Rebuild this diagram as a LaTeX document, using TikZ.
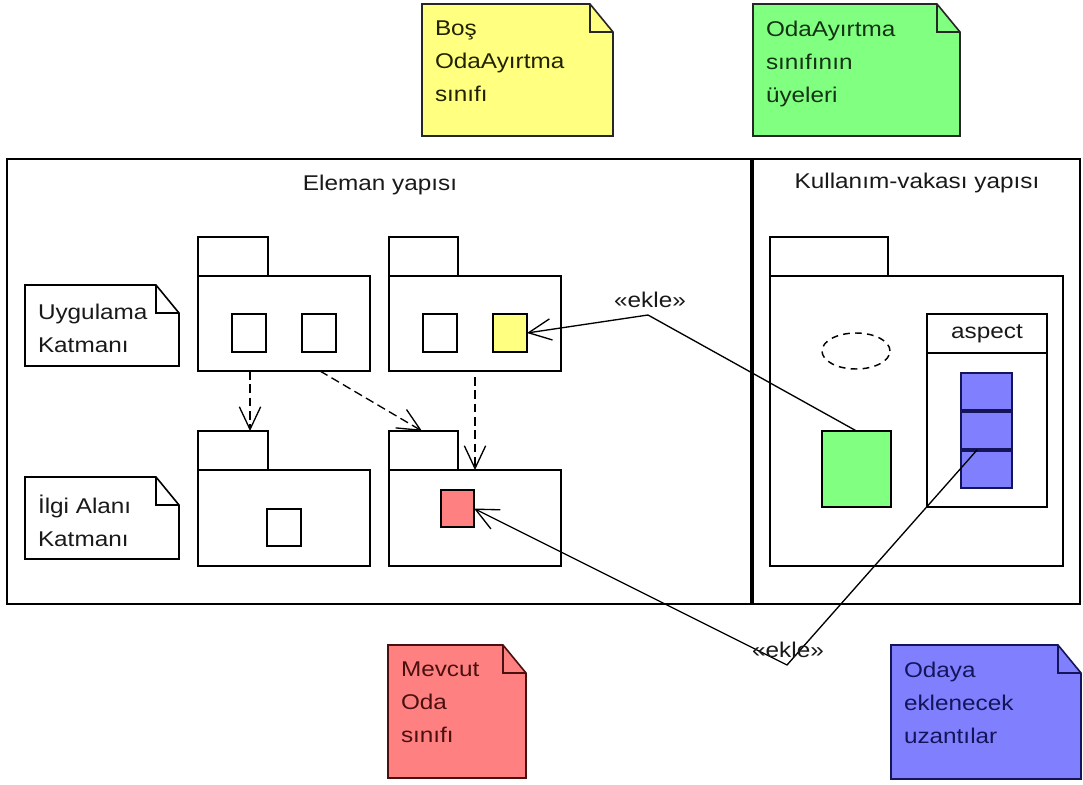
\documentclass[tikz,border=0pt]{standalone}
\usepackage{fontspec}
\setmainfont{Liberation Sans}[FakeStretch=1.14]
\usetikzlibrary{arrows.meta,calc,shapes.geometric}

\definecolor{noteyellow}{HTML}{FFFF80}
\definecolor{notegreen}{HTML}{80FF80}
\definecolor{notered}{HTML}{FF8080}
\definecolor{noteblue}{HTML}{8080FF}
\definecolor{navyink}{HTML}{14145A}
\definecolor{maroonink}{HTML}{4A1010}
\definecolor{greenink}{HTML}{143214}
\definecolor{olivink}{HTML}{222200}

\tikzset{
  every node/.style={inner sep=0pt, outer sep=0pt},
  lbl/.style={font=\fontsize{16}{24.75}\selectfont, text=black!90},
  box/.style 2 args={draw, line width=1.2pt, anchor=north west,
    minimum width=#1*0.75pt, minimum height=#2*0.75pt},
  notetext/.style={lbl, align=left, anchor=north west},
  conn/.style={line width=1pt, -{Straight Barb[length=17pt,width=16pt]}},
  dep/.style={conn, dash pattern=on 6.5pt off 3.5pt},
}

% UML note with a folded corner: name, x, y, width, height, style, text offset y, text
\newcommand\umlnote[8]{%
  \node[box={#4}{#5}, draw=none] (#1) at (#2,#3) {};
  \filldraw[line width=1.2pt, #6] (#1.north west) -- ($(#1.north east)+(-23,0)$)
    -- ($(#1.north east)+(0,28)$) -- (#1.south east) -- (#1.south west) -- cycle;
  \draw[line width=1.2pt, #6, fill=none] ($(#1.north east)+(-23,0)$) -- ++(0,28)
    -- ($(#1.north east)+(0,28)$);
  \node[notetext] (#1t) at ($(#1.north west)+(13,#7)$) {#8};
}

\begin{document}
\begin{tikzpicture}[x=0.75pt, y=-0.75pt]
\useasboundingbox[fill=white] (0,0) rectangle (1083,785);

% outer frame with its two regions
\node[box={745}{445}] (elem) at (7,159) {};
\node[box={328}{445}] (usec) at (752,159) {};
\draw[line width=2.3pt] (elem.north east) -- (elem.south east);
\node[lbl] (elemt) at (380,185) {Eleman yapısı};
\node[lbl] (usect) at (917,183) {Kullanım-vakası yapısı};

% layer notes
\umlnote{uyg}{25}{285}{154}{81}{draw=black, fill=white}{19}{Uygulama\\Katmanı}
\umlnote{ilg}{25}{477}{154}{82}{draw=black, fill=white}{18}{İlgi Alanı\\Katmanı}

% application layer packages
\node[box={70}{39}] (p1tab) at (198,237) {};
\node[box={172}{95}] (p1) at (198,276) {};
\node[box={34}{38}] (p1a) at (232,314) {};
\node[box={34}{38}] (p1b) at (302,314) {};

\node[box={69}{39}] (p2tab) at (389,237) {};
\node[box={172}{95}] (p2) at (389,276) {};
\node[box={34}{38}] (p2a) at (423,314) {};
\node[box={34}{38}, fill=noteyellow] (ysq) at (493,314) {};

% domain layer packages
\node[box={70}{39}] (p3tab) at (198,431) {};
\node[box={172}{96}] (p3) at (198,470) {};
\node[box={34}{37}] (p3a) at (267,509) {};

\node[box={69}{39}] (p4tab) at (389,431) {};
\node[box={172}{96}] (p4) at (389,470) {};
\node[box={33}{37}, fill=notered] (rsq) at (441,490) {};

% dependencies between the layers
\draw[dep] ($(p1.south west)+(52,0)$) -- ($(p3tab.north west)+(52,0)$);
\draw[dep] ($(p1.south west)+(122,0)$) -- ($(p4tab.north west)+(33,0)$);
\draw[dep] ($(p2.south west)+(86,6)$) -- ($(p4.north west)+(86,0)$);

% use-case slice
\node[box={118}{39}] (uctab) at (770,237) {};
\node[box={293}{290}] (uc) at (770,276) {};
\node[ellipse, draw, line width=1.1pt, dash pattern=on 5pt off 4pt,
      minimum width=68*0.75pt, minimum height=36*0.75pt] (ucase) at (856,351) {};
\node[box={120}{39}] (asph) at (927,314) {};
\node[lbl] (aspt) at (asph.center) {aspect};
\node[box={120}{154}] (aspb) at (927,353) {};
\node[box={69}{76}, fill=notegreen] (gsq) at (822,431) {};
\node[box={51}{38}, fill=noteblue, draw=navyink] (bl1) at (961,373) {};
\node[box={51}{39}, fill=noteblue, draw=navyink] (bl2) at (961,411) {};
\node[box={51}{38}, fill=noteblue, draw=navyink] (bl3) at (961,450) {};
\draw[line width=2.3pt, navyink] (bl1.south west) -- (bl1.south east);
\draw[line width=2.3pt, navyink] (bl2.south west) -- (bl2.south east);

% «ekle» connectors
\coordinate (bend1) at (648,315);
\coordinate (bend2) at (787,665);
\draw[conn] (gsq.north) -- (bend1) -- (ysq.east);
\draw[conn] ($(bl3.north west)+(16,0)$) -- (bend2) -- (rsq.east);
\node[lbl] (ekle1) at (650,300) {«ekle»};
\node[lbl] (ekle2) at (788,650) {«ekle»};

% colour legend notes
\umlnote{ny}{422}{4}{191}{132}{draw=black!85, fill=noteyellow}{17}{\color{olivink}Boş\\\color{olivink}OdaAyırtma\\\color{olivink}sınıfı}
\umlnote{ng}{753}{4}{207}{132}{draw=black!85, fill=notegreen}{17}{\color{greenink}OdaAyırtma\\\color{greenink}sınıfının\\\color{greenink}üyeleri}
\umlnote{nr}{388}{645}{138}{133}{draw=maroonink, fill=notered}{17}{\color{maroonink}Mevcut\\\color{maroonink}Oda\\\color{maroonink}sınıfı}
\umlnote{nb}{891}{645}{190}{134}{draw=navyink, fill=noteblue}{17}{\color{navyink}Odaya\\\color{navyink}eklenecek\\\color{navyink}uzantılar}

\end{tikzpicture}
\end{document}
